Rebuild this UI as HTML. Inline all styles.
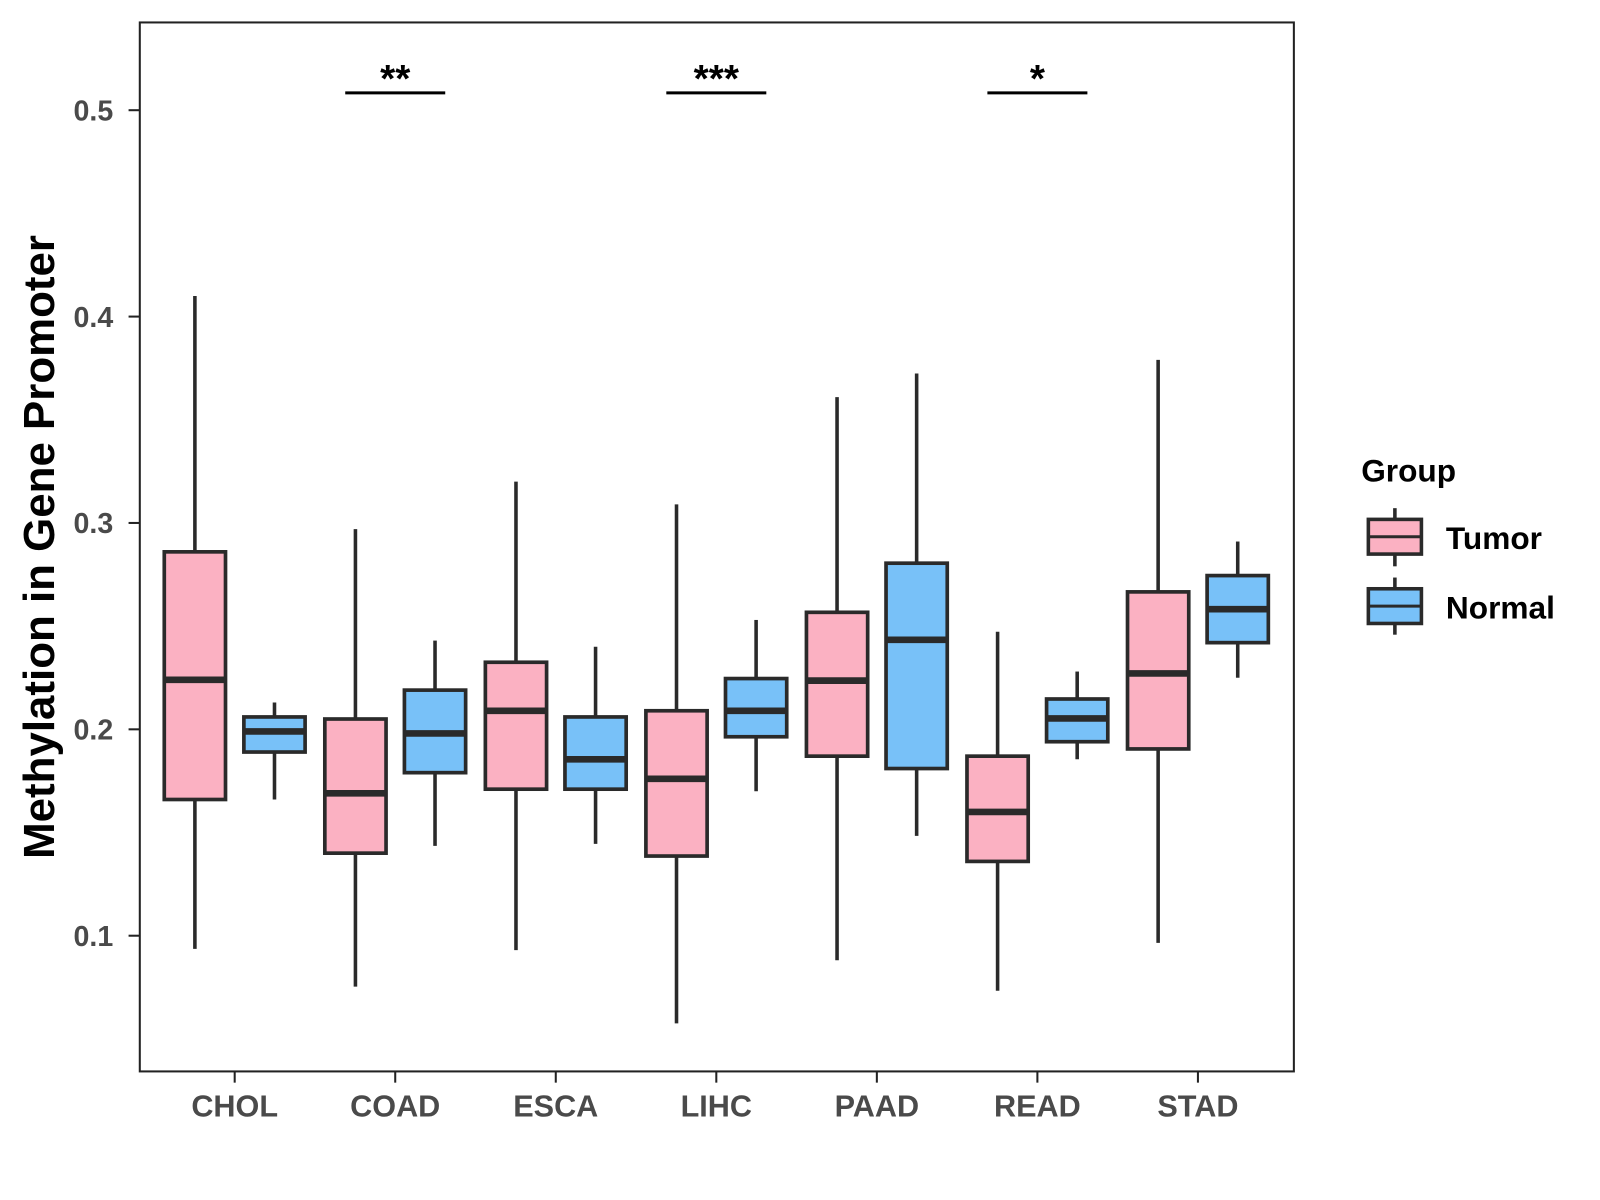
<!DOCTYPE html>
<html><head><meta charset="utf-8"><style>
body{margin:0;background:#fff;}
svg{display:block;font-family:"Liberation Sans",sans-serif;}
</style></head><body>
<svg id="chart" width="1600" height="1200" viewBox="0 0 1600 1200">
<g transform="scale(1.0204)">
<rect x="137" y="22" width="1131" height="1028" fill="#fff" stroke="#222" stroke-width="2"/>
<g id="marks"></g>
<g id="axes"></g>
<text transform="translate(53,536) rotate(-90)" text-anchor="middle" font-size="43" font-weight="bold" fill="#000">Methylation in Gene Promoter</text>
<g>
<text x="1334" y="472" font-size="31" font-weight="bold" fill="#000">Group</text>
<g>
<line x1="1367" y1="498" x2="1367" y2="555" stroke="#2a2a2a" stroke-width="3.5"/>
<rect x="1341" y="509" width="52" height="34" fill="#FBB1C2" stroke="#2a2a2a" stroke-width="3.5"/>
<line x1="1341" y1="526" x2="1393" y2="526" stroke="#2a2a2a" stroke-width="3"/>
<text x="1417" y="538" font-size="31" font-weight="bold" fill="#000">Tumor</text>
</g>
<g>
<line x1="1367" y1="566" x2="1367" y2="622" stroke="#2a2a2a" stroke-width="3.5"/>
<rect x="1341" y="577" width="52" height="34" fill="#78C1F8" stroke="#2a2a2a" stroke-width="3.5"/>
<line x1="1341" y1="594" x2="1393" y2="594" stroke="#2a2a2a" stroke-width="3"/>
<text x="1417" y="606" font-size="31" font-weight="bold" fill="#000">Normal</text>
</g>
</g>
</g>
</svg>
<script>
const categories = ["CHOL","COAD","ESCA","LIHC","PAAD","READ","STAD"];
// [whiskerLow, Q1, median, Q3, whiskerHigh]
const tumorStats = [
 [0.0936,0.166,0.224,0.286,0.41],
 [0.0753,0.140,0.169,0.205,0.297],
 [0.093,0.171,0.209,0.2325,0.320],
 [0.0575,0.1386,0.176,0.209,0.309],
 [0.0881,0.187,0.2236,0.2567,0.361],
 [0.0733,0.136,0.160,0.187,0.2473],
 [0.0965,0.1905,0.2271,0.2666,0.379]
];
const normalStats = [
 [0.166,0.189,0.199,0.206,0.213],
 [0.1435,0.179,0.198,0.219,0.243],
 [0.1445,0.171,0.1855,0.206,0.240],
 [0.170,0.1964,0.209,0.2246,0.253],
 [0.1484,0.181,0.2434,0.2805,0.3724],
 [0.1855,0.194,0.2053,0.2147,0.228],
 [0.225,0.242,0.2582,0.2745,0.291]
];
const yTicks = [0.1,0.2,0.3,0.4,0.5];
const yTickLabels = ["0.1","0.2","0.3","0.4","0.5"];
const sigCategories = ["COAD","LIHC","READ"];
const sigLabels = ["**","***","*"];
const sigLevel = 0.5084;

const NS="http://www.w3.org/2000/svg";
const y = v => 108 + (0.5 - v) * 2022.5;
const x = i => 230 + i * 157.33;
function mk(tag, attrs, parent){const e=document.createElementNS(NS,tag);for(const k in attrs)e.setAttribute(k,attrs[k]);parent.appendChild(e);return e;}
const marks=document.getElementById('marks');
const axes=document.getElementById('axes');
const stroke="#2a2a2a";
function drawBox(s, cx, fill, name){
  const g=mk('g',{},marks);
  
  
  mk('line',{x1:cx,x2:cx,y1:y(s[4]),y2:y(s[3]),stroke:stroke,'stroke-width':3.5},g);
  mk('line',{x1:cx,x2:cx,y1:y(s[1]),y2:y(s[0]),stroke:stroke,'stroke-width':3.5},g);
  mk('rect',{x:cx-30,y:y(s[3]),width:60,height:y(s[1])-y(s[3]),fill:fill,stroke:stroke,'stroke-width':3.6},g);
  mk('line',{x1:cx-30,x2:cx+30,y1:y(s[2]),y2:y(s[2]),stroke:stroke,'stroke-width':6.5},g);
}
categories.forEach((c,i)=>{
  drawBox(tumorStats[i], x(i)-39, "#FBB1C2", "box-tumor-"+c.toLowerCase());
  drawBox(normalStats[i], x(i)+39, "#78C1F8", "box-normal-"+c.toLowerCase());
  mk('line',{x1:x(i),x2:x(i),y1:1050,y2:1061,stroke:"#222",'stroke-width':2},axes);
  const t=mk('text',{x:x(i),y:1094,'text-anchor':'middle','font-size':30,'font-weight':'bold',fill:'#4a4a4a'},axes);
  t.textContent=c;
  
  
});
yTicks.forEach((v,i)=>{
  mk('line',{x1:126,x2:137,y1:y(v),y2:y(v),stroke:"#222",'stroke-width':2},axes);
  const t=mk('text',{x:111,y:y(v)+10,'text-anchor':'end','font-size':28,'font-weight':'bold',fill:'#4a4a4a'},axes);
  t.textContent=yTickLabels[i];
  
  
});
sigCategories.forEach((c,k)=>{
  const i=categories.indexOf(c);
  const g=mk('g',{},marks);
  
  
  mk('line',{x1:x(i)-49,x2:x(i)+49,y1:y(sigLevel),y2:y(sigLevel),stroke:"#000",'stroke-width':3},g);
  const t=mk('text',{x:x(i),y:y(sigLevel)-1,'text-anchor':'middle','font-size':38,'font-weight':'bold',fill:'#000'},g);
  t.textContent=sigLabels[k];
});
</script>
</body></html>
